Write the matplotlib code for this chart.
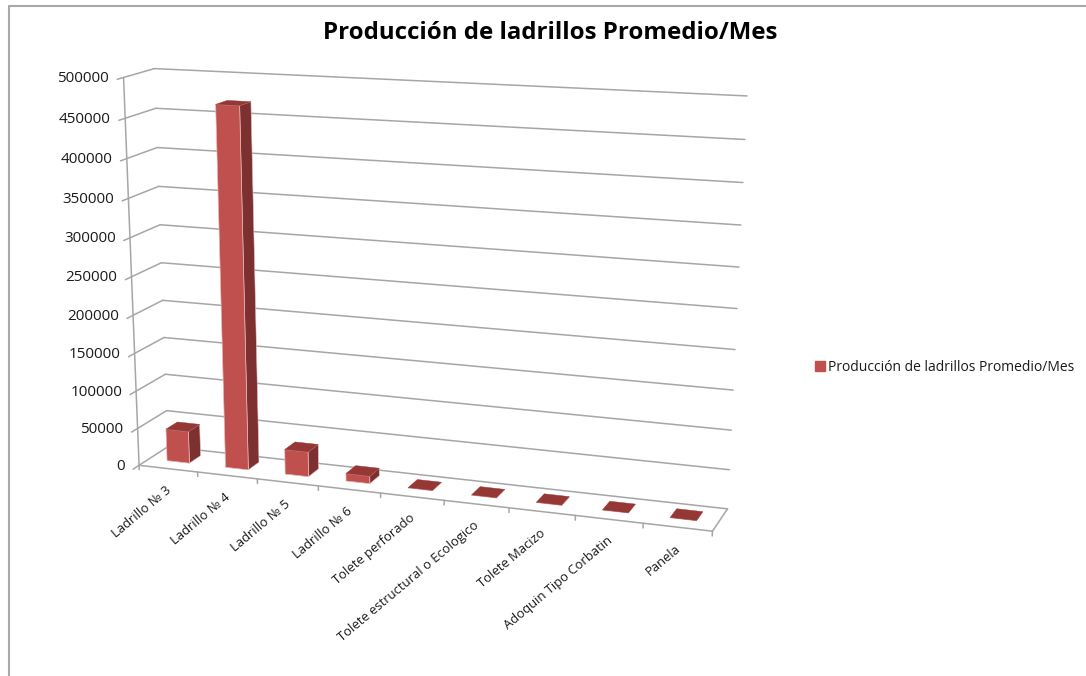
import numpy as np
from matplotlib import pyplot as plt
from matplotlib.patches import Patch, Polygon

categorias = ["Ladrillo № 3", "Ladrillo № 4", "Ladrillo № 5", "Ladrillo № 6",
              "Tolete perforado", "Tolete estructural o Ecologico",
              "Tolete Macizo", "Adoquin Tipo Corbatin", "Panela"]
produccion = [43000, 468000, 33000, 10000, 600, 500, 500, 400, 400]
ticks_valor = [0, 50000, 100000, 150000, 200000, 250000,
               300000, 350000, 400000, 450000, 500000]
titulo = "Producción de ladrillos Promedio/Mes"

# box corners (category, depth, height), each 0..1, and where they land on the figure
esquinas = np.array([[0, 0, 0], [1, 0, 0], [0, 1, 0], [1, 1, 0],
                     [0, 0, 1], [0, 1, 1], [1, 1, 1]], float)
pantalla = np.array([[140, 465], [712, 532], [167, 447], [728, 508],
                     [123, 77], [155, 69], [747, 96]], float)


def ajustar_camara(p3, p2):
    '''least squares fit of the 3x4 perspective matrix'''
    A, b = [], []
    for (u, v, w), (x, y) in zip(p3, p2):
        A.append([u, v, w, 1, 0, 0, 0, 0, -x*u, -x*v, -x*w])
        A.append([0, 0, 0, 0, u, v, w, 1, -y*u, -y*v, -y*w])
        b += [x, y]
    m = np.linalg.lstsq(np.array(A), np.array(b), rcond=None)[0]
    return np.append(m, 1).reshape(3, 4)


camara = ajustar_camara(esquinas, pantalla)


def proy(cat, prof, valor):
    '''category axis position, depth and value to figure pixels'''
    h = camara @ np.array([cat, prof, valor/500000, 1.0])
    return h[0]/h[2], h[1]/h[2]


def linea(a, b, color="#a6a6a6", lw=1.1):
    xa, ya = proy(*a)
    xb, yb = proy(*b)
    ax.plot([xa, xb], [ya, yb], color=color, lw=lw, solid_capstyle="round", zorder=1)


fig = plt.figure(figsize=(10.86, 6.76), dpi=100)
ax = fig.add_axes([0, 0, 1, 1])
ax.set_xlim(0, 1086)
ax.set_ylim(676, 0)
ax.axis("off")
plt.rcParams["font.family"] = ["Open Sans", "DejaVu Sans"]

# outer frame, only top and left show
ax.plot([9, 9, 1086], [676, 6, 6], color="#a8a8a8", lw=1.5, zorder=1)

# walls and value labels
for t in ticks_valor:
    linea((0, 1, t), (1, 1, t))
    linea((0, -0.2, t), (0, 1, t))
    x, y = proy(0, -0.2, t)
    # labels creep up a little towards the bottom of the axis
    ax.text(x-8, y-1-2*(1-t/500000), str(t), ha="right", va="center", fontsize=11, color="#1a1a1a")

# axis lines and floor edge
linea((0, 0, 0), (0, 0, 500000))
linea((0, 0, 0), (1, 0, 0))
linea((1, 0, 0), (1, 1, 0))

n = len(categorias)
for i in range(n+1):
    linea((i/n, 0, 0), (i/n, 0, -6000))

# category labels
for i, nombre in enumerate(categorias):
    x, y = proy((i+0.5)/n, 0, 0)
    ax.text(x-3, y+15, nombre, rotation=40, rotation_mode="anchor", ha="right", va="top",
            fontsize=9.4, color="#1a1a1a")

# bars: side, front and top face of each box
ancho = 0.385/n
v0, v1 = 0.35, 0.75
for i, val in enumerate(produccion):
    u0 = (i+0.5)/n - ancho/2
    u1 = u0 + ancho
    lado = [proy(u1, v0, 0), proy(u1, v1, 0), proy(u1, v1, val), proy(u1, v0, val)]
    frente = [proy(u0, v0, 0), proy(u1, v0, 0), proy(u1, v0, val), proy(u0, v0, val)]
    tapa = [proy(u0, v0, val), proy(u1, v0, val), proy(u1, v1, val), proy(u0, v1, val)]
    ax.add_patch(Polygon(lado, fc="#7d3030", ec="#e8c4c3", lw=0.4, zorder=2))
    ax.add_patch(Polygon(frente, fc="#c0504d", ec="#e8b8b6", lw=0.5, zorder=3))
    ax.add_patch(Polygon(tapa, fc="#953735", ec="#953735", lw=0.3, zorder=4))

fig.text(550/1086, 1-33/676, titulo, ha="center", va="center", fontsize=17.3, fontweight="bold",
         color="black")
ax.legend(handles=[Patch(color="#c0504d", label=titulo)], loc="center left",
          bbox_to_anchor=(808/1086, 1-367/676), frameon=False, fontsize=10,
          handlelength=0.75, handleheight=0.75, handletextpad=0.21, borderpad=0,
          labelcolor="#1a1a1a")

fig.savefig("out.png", dpi=100)
